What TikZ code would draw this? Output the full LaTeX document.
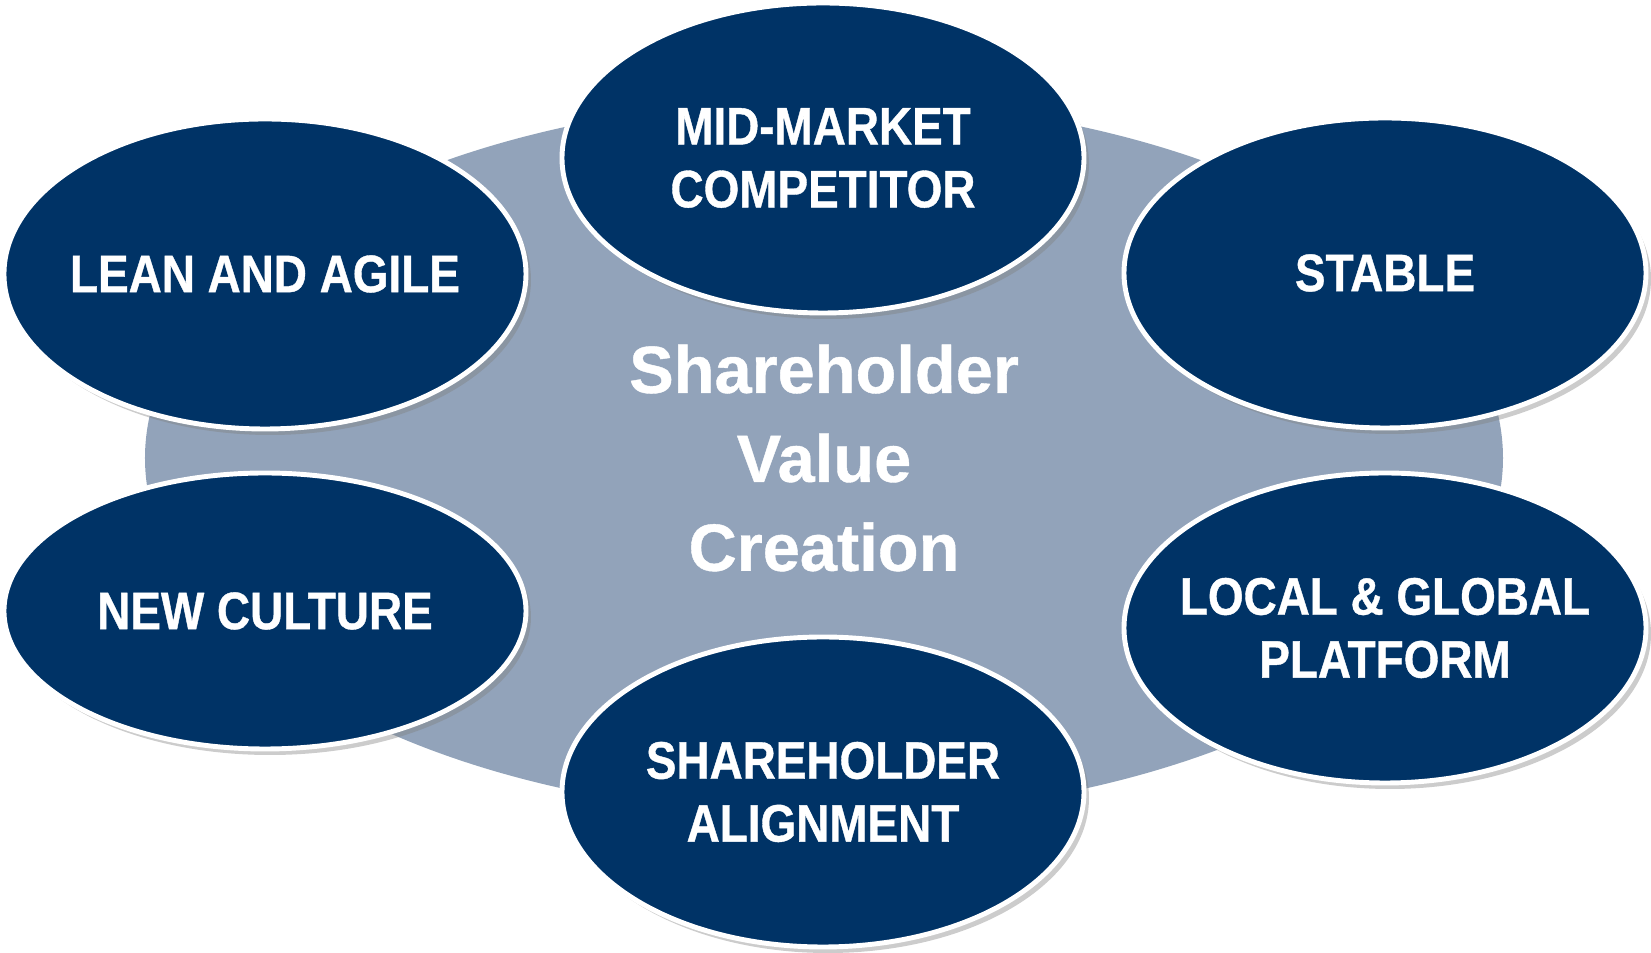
\documentclass[tikz,border=0pt]{standalone}
\usepackage{fontspec}
\setmainfont[FakeBold=0.6]{Liberation Sans}
\newfontfamily\narrow[FakeStretch=0.87, FakeBold=0.7]{Liberation Sans}
\usetikzlibrary{shapes.geometric, shadows}
\definecolor{navy}{RGB}{0,51,102}
\definecolor{slate}{RGB}{146,163,186}

\begin{document}
\begin{tikzpicture}[
	ov/.style={ellipse, draw=white, line width=1.4pt, fill=navy, text=white,
		minimum width=5.22cm, minimum height=3.1cm, inner xsep=-5mm, inner ysep=0pt,
		align=center, font=\narrow\bfseries\fontsize{15}{17.9}\selectfont,
		drop shadow={opacity=0.4, shadow xshift=0.5mm, shadow yshift=-0.6mm}},
	core/.style={ellipse, fill=slate, text=white, align=center, inner sep=0pt,
		minimum width=13.58cm, minimum height=7.16cm,
		font=\bfseries\fontsize{19}{25.3}\selectfont}]
	\useasboundingbox (-8.24,-4.98) rectangle (8.27,4.55);

	\node [core] (V) at (0,-0.03) {Shareholder\\Value\\Creation};

	\node [ov] (L) at (-5.59, 1.81) {LEAN AND AGILE};
	\node [ov] (M) at (-0.01, 2.97) {MID-MARKET\\COMPETITOR};
	\node [ov] (S) at ( 5.61, 1.82) {STABLE};
	\node [ov, minimum height=2.76cm] (N) at (-5.59,-1.56) {NEW CULTURE};
	\node [ov] (A) at (-0.01,-3.37) {SHAREHOLDER\\ALIGNMENT};
	\node [ov] (G) at ( 5.61,-1.73) {LOCAL \& GLOBAL\\PLATFORM};
\end{tikzpicture}
\end{document}
